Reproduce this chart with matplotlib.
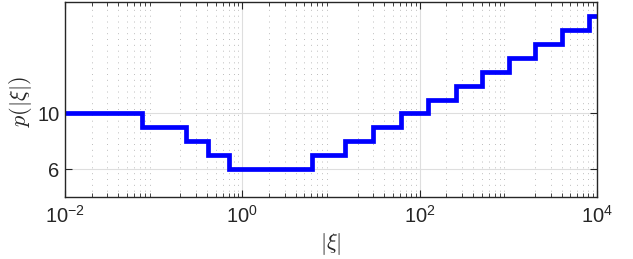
import numpy as np
import matplotlib
matplotlib.use("Agg")
import matplotlib.pyplot as plt
from matplotlib.ticker import LogLocator, NullFormatter

# Step breakpoints (|xi|) and p levels
breaks = [0.01, 0.0738, 0.232, 0.413, 0.708, 6.15, 14.3, 29.8, 62.0, 124.0,
          255.0, 505.0, 1009.0, 2014.0, 4027.0, 8185.0, 10000.0]
levels = [10, 9, 8, 7, 6, 7, 8, 9, 10, 11, 12, 13, 14, 15, 16, 17, 17]
yticks = [6, 10]
xticks = [1e-2, 1e0, 1e2, 1e4]
xtick_labels = ["$\\mathregular{10^{-2}}$", "$\\mathregular{10^{0}}$",
                "$\\mathregular{10^{2}}$", "$\\mathregular{10^{4}}$"]

plt.rcParams['font.family'] = ['Liberation Sans', 'DejaVu Sans']
plt.rcParams['mathtext.fontset'] = 'custom'
plt.rcParams['mathtext.rm'] = 'Liberation Sans'

fig = plt.figure(figsize=(6.33, 2.59), dpi=100)
ax = fig.add_axes([65/633, 1-197/259, (597-65)/633, (197-2)/259])

ax.plot(breaks, levels, drawstyle='steps-post', color=(0, 0, 1), lw=3.4,
        solid_joinstyle='miter')

ax.set_xscale('log')
ax.set_xlim(1e-2, 1e4)
ax.set_ylim(4, 18)
ax.set_xticks(xticks)
ax.set_xticklabels(xtick_labels)
ax.xaxis.set_minor_locator(LogLocator(base=10, subs=np.arange(2, 10)))
ax.xaxis.set_minor_formatter(NullFormatter())
ax.set_yticks(yticks)
ax.set_yticklabels([str(v) for v in yticks])

ax.grid(True, which='major', color='#dedede', lw=0.8, ls='-')
ax.grid(True, which='minor', axis='x', color='#bdbdbd', lw=0.7, ls=(0, (1, 5)))
ax.set_axisbelow(True)

ax.tick_params(which='both', direction='in', top=True, right=True,
               labelsize=14.5, colors='#262626')
ax.tick_params(axis='x', pad=6)
ax.tick_params(axis='y', pad=4)
ax.tick_params(which='major', length=5, width=0.8)
ax.tick_params(which='minor', length=3, width=0.6)
for s in ax.spines.values():
    s.set_color('#262626')
    s.set_linewidth(1.0)

ax.set_xlabel(r'$|\xi|$', fontsize=16, color='#262626', labelpad=3,
              math_fontfamily='cm')
ax.set_ylabel(r'$p(|\xi|)$', fontsize=16, color='#262626',
              math_fontfamily='cm')
ax.yaxis.set_label_coords(-0.058, 0.49)

fig.savefig('out.png', dpi=100)
